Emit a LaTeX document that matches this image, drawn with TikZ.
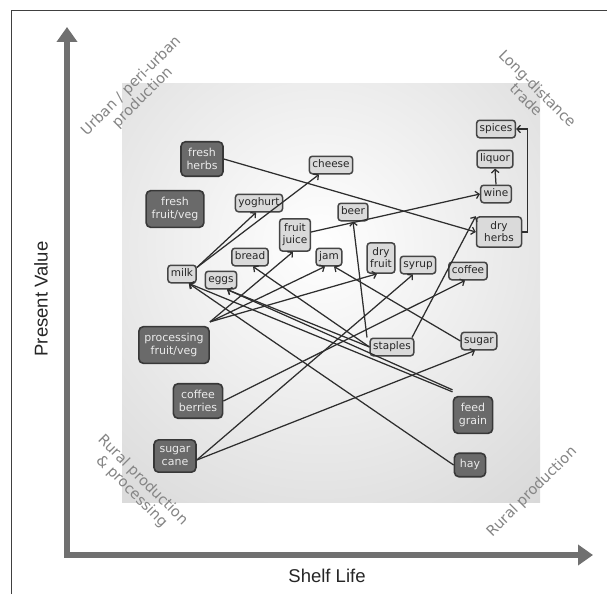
\documentclass[tikz,border=0pt]{standalone}
\usepackage{fontspec}
\setmainfont{DejaVu Sans}
\newfontfamily\axisfont{Liberation Sans}
\usetikzlibrary{arrows.meta}
\definecolor{bgedge}{HTML}{D2D2D2}
\definecolor{axiscol}{HTML}{707070}
\definecolor{lightfill}{HTML}{DADADA}
\definecolor{lightdraw}{HTML}{454545}
\definecolor{darkfill}{HTML}{6A6A6A}
\definecolor{darkdraw}{HTML}{383838}
\definecolor{labelgray}{HTML}{858585}
\definecolor{linecol}{HTML}{2E2E2E}
\begin{document}
\begin{tikzpicture}[x=1pt,y=-1pt,
  lightbox/.style={draw=lightdraw, fill=lightfill, line width=1.5pt, rounded corners=3pt,
    inner xsep=3pt, inner ysep=3.5pt, text=black!85, align=center,
    font=\fontsize{10.5}{12}\selectfont, text height=8pt, text depth=2.5pt},
  lighttwo/.style={draw=lightdraw, fill=lightfill, line width=1.5pt, rounded corners=3pt,
    inner xsep=3pt, inner ysep=5pt, text=black!85, align=center,
    font=\fontsize{10.5}{12}\selectfont},
  darkbox/.style={draw=darkdraw, fill=darkfill, line width=1.6pt, rounded corners=4.5pt,
    inner xsep=5.5pt, inner ysep=6.5pt, text=white!92!black, align=center,
    font=\fontsize{11}{13}\selectfont},
  conn/.style={draw=linecol, line width=1.25pt, -{Straight Barb[length=3.5pt,width=7.5pt]}},
  cornerlabel/.style={text=labelgray, align=center, font=\fontsize{14.5}{16}\selectfont},
  axislabel/.style={text=black!85, font=\axisfont\fontsize{18.5}{20}\selectfont}
]
\useasboundingbox (0,0) rectangle (607,594);
\fill[white] (0,0) rectangle (607,594);
% frame lines
\draw[line width=0.9pt, draw=black!75] (11,594) -- (11,10) -- (607,10);
% shaded background
\begin{scope}
  \clip (122,83) rectangle (540,502);
  \fill[bgedge] (122,83) rectangle (540,502);
  \shade[inner color=white, outer color=bgedge] (320,245) circle (400);
\end{scope}
% axes
\draw[axiscol, line width=6pt, line join=miter,
  {Triangle[length=15pt,width=20pt]}-{Triangle[length=15pt,width=20pt]}]
  (67,27) -- (67,555) -- (593,555);
\node[axislabel, rotate=90] (pv) at (41,299) {Present Value};
\node[axislabel] (sl) at (327,576) {Shelf Life};
% corner labels
\node[cornerlabel, rotate=45] (urban) at (137,92) {Urban / peri-urban\\production};
\node[cornerlabel, rotate=-45] (longd) at (532,94) {Long-distance\\trade};
\node[cornerlabel, rotate=-45] (ruralpp) at (137,486) {Rural production\\\& processing};
\node[cornerlabel, rotate=45] (ruralp) at (532,492) {Rural production};
% dark nodes
\node[darkbox] (freshherbs) at (202,159) {fresh\\herbs};
\node[darkbox] (freshfv) at (175,209) {fresh\\fruit/veg};
\node[darkbox] (procfv) at (174,345) {processing\\fruit/veg};
\node[darkbox] (coffeeberries) at (198,401) {coffee\\berries};
\node[darkbox] (sugarcane) at (175,456) {sugar\\cane};
\node[darkbox] (feedgrain) at (473,415) {feed\\grain};
\node[darkbox, text height=8pt, text depth=2.5pt] (hay) at (470,465) {hay};
% light nodes
\node[lightbox] (spices) at (496,129) {spices};
\node[lightbox] (liquor) at (495,159) {liquor};
\node[lightbox] (wine) at (496,194) {wine};
\node[lighttwo, minimum width=45pt] (dryherbs) at (499,232) {dry\\herbs};
\node[lightbox] (cheese) at (331,165) {cheese};
\node[lightbox] (beer) at (353,212) {beer};
\node[lightbox] (jam) at (329,257) {jam};
\node[lighttwo] (dryfruit) at (381,258) {dry\\fruit};
\node[lightbox] (syrup) at (418,265) {syrup};
\node[lightbox] (coffee) at (468,271) {coffee};
\node[lightbox] (staples) at (392,347) {staples};
\node[lightbox] (sugar) at (479,341) {sugar};
\node[lightbox] (yoghurt) at (259,203) {yoghurt};
\node[lighttwo] (fruitjuice) at (295,235) {fruit\\juice};
\node[lightbox] (bread) at (250,257) {bread};
\node[lightbox] (milk) at (182,274) {milk};
\node[lightbox] (eggs) at (221,280) {eggs};
% connectors
\draw[conn] (freshherbs.east) -- (dryherbs.west);
\draw[conn] ([yshift=-3pt]milk.north east) -- ([xshift=-3pt]yoghurt.south);
\draw[conn] ([yshift=-3pt]milk.north east) -- ([xshift=-12pt]cheese.south);
\draw[conn] ([yshift=4pt]procfv.north east) -- ([xshift=-2pt]fruitjuice.south);
\draw[conn] ([yshift=4pt]procfv.north east) -- ([xshift=-4pt]jam.south);
\draw[conn] ([yshift=4pt]procfv.north east) -- ([xshift=-4pt]dryfruit.south);
\draw[conn] ([yshift=3pt]fruitjuice.east) -- (wine.west);
\draw[conn] (wine.north) -- (liquor.south);
\draw[conn] (dryherbs.east) -| ([xshift=11pt]spices.east) -- (spices.east);
\draw[conn] ([xshift=-25pt]staples.north) -- (beer.south);
\draw[conn] (staples.west) -- ([xshift=3pt]bread.south);
\draw[conn] (staples.west) -- ([xshift=6pt]eggs.south);
\draw[conn] ([xshift=20pt]staples.north) -- (dryherbs.north west);
\draw[conn] (sugar.west) -- ([xshift=5pt]jam.south);
\draw[conn] ([yshift=-4pt]sugarcane.east) -- ([xshift=-4pt]sugar.south);
\draw[conn] ([yshift=-4pt]sugarcane.east) -- ([xshift=-5pt]syrup.south);
\draw[conn] (coffeeberries.east) -- ([xshift=-3pt]coffee.south);
\draw[conn] ([yshift=4pt]feedgrain.north west) -- ([xshift=-8pt]milk.south east);
\draw[conn] ([yshift=6pt]feedgrain.north west) -- ([xshift=6pt]eggs.south);
\draw[conn] (hay.west) -- ([xshift=-8pt]milk.south east);
\end{tikzpicture}
\end{document}
